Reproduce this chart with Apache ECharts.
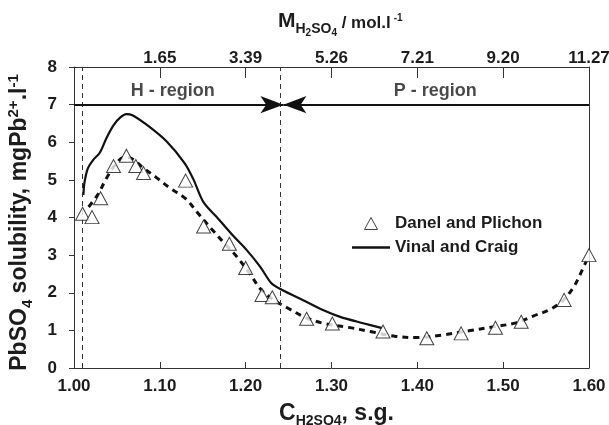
<!DOCTYPE html>
<html>
<head>
<meta charset="utf-8">
<script src="https://cdn.jsdelivr.net/npm/echarts@6/dist/echarts.min.js"></script>
<style>
  html, body { margin: 0; padding: 0; background: #fff; }
  #chart { width: 609px; height: 425px; }
</style>
</head>
<body>
<div id="chart"></div>
<script>
// Bottom axis: specific gravity of H2SO4; top axis: matching molarity
const sgTicks = [1.00, 1.10, 1.20, 1.30, 1.40, 1.50, 1.60];
const molarityLabels = ['', '1.65', '3.39', '5.26', '7.21', '9.20', '11.27'];

// Danel and Plichon measurements (s.g., mg Pb2+/l)
const danelSG  = [1.010, 1.021, 1.031, 1.046, 1.061, 1.072, 1.081, 1.130, 1.151, 1.181, 1.200, 1.219, 1.231, 1.271, 1.301, 1.360, 1.411, 1.451, 1.491, 1.521, 1.571, 1.600];
const danelSol = [4.10, 4.01, 4.51, 5.37, 5.64, 5.37, 5.18, 4.98, 3.76, 3.30, 2.66, 1.94, 1.88, 1.31, 1.18, 0.97, 0.79, 0.92, 1.07, 1.23, 1.81, 3.00];

// Trend curve through the Danel and Plichon data
const trendSG  = [1.017, 1.028, 1.038, 1.048, 1.058, 1.066, 1.080, 1.095, 1.112, 1.130, 1.145, 1.160, 1.175, 1.190, 1.205, 1.218, 1.232, 1.250, 1.270, 1.290, 1.320, 1.345, 1.375, 1.400, 1.430, 1.460, 1.490, 1.515, 1.535, 1.555, 1.570, 1.582, 1.590, 1.597];
const trendSol = [4.28, 4.62, 5.05, 5.40, 5.60, 5.58, 5.33, 5.08, 4.78, 4.50, 4.10, 3.70, 3.32, 2.95, 2.50, 2.08, 1.82, 1.58, 1.34, 1.19, 1.08, 0.97, 0.84, 0.81, 0.88, 0.99, 1.10, 1.20, 1.38, 1.56, 1.80, 2.15, 2.50, 2.85];

// Vinal and Craig curve
const vinalSG  = [1.011, 1.012, 1.016, 1.022, 1.030, 1.038, 1.046, 1.054, 1.061, 1.068, 1.085, 1.108, 1.129, 1.139, 1.151, 1.166, 1.186, 1.201, 1.217, 1.230, 1.242, 1.267, 1.290, 1.310, 1.337, 1.359];
const vinalSol = [4.60, 4.90, 5.30, 5.52, 5.72, 6.12, 6.45, 6.66, 6.75, 6.72, 6.46, 6.02, 5.44, 5.02, 4.40, 4.02, 3.50, 3.14, 2.69, 2.25, 2.08, 1.80, 1.54, 1.36, 1.19, 1.06];

// Region boundaries and region annotation
const boundarySG = [1.013, 1.244];
const arrowLevel = 7;
const regionNames = ['H - region', 'P - region'];
const regionLabelSG = [1.115, 1.421];
const regionLabelLevel = 7.35;

const FONT = '"Liberation Sans", Arial, Helvetica, sans-serif';
const INK = '#1c1c1c';
const zip = (xs, ys) => xs.map((x, i) => [x, ys[i]]);

const chart = echarts.init(document.getElementById('chart'), null, { renderer: 'canvas' });

// one rich-text fragment: raised by padBottom inside a bottom-aligned line
function richPiece(size, padBottom, padLeft) {
  return { fontSize: size, lineHeight: size, fontWeight: 'bold', fontFamily: FONT, color: INK,
           verticalAlign: 'bottom', padding: [0, 0, padBottom, padLeft || 0] };
}

// arrow head whose tip sits on the boundary line
const arrowHead = { symbol: 'arrow', symbolSize: [13, 23] };

const option = {
  animation: false,
  backgroundColor: '#fff',
  textStyle: { fontFamily: FONT },
  title: {
    text: '{m|M}{s|H}{d|2}{s|SO}{d|4}{u| / mol.l}{p|-1}',
    left: 278,
    top: 19,
    padding: 0,
    textStyle: {
      rich: {
        m: richPiece(21, 8),
        s: richPiece(14, 4),
        d: richPiece(10, 1.6),
        u: richPiece(17, 8.6),
        p: richPiece(10, 16.6, 3)
      }
    }
  },
  legend: {
    data: [
      { name: 'Danel and Plichon', icon: 'path://M6,0L12,11L0,11Z',
        itemStyle: { color: '#fff', borderColor: '#111', borderWidth: 1 } },
      { name: 'Vinal and Craig', icon: 'path://M0,0L38,0L38,2.4L0,2.4Z',
        itemStyle: { color: '#111', borderWidth: 0 } }
    ],
    orient: 'vertical',
    left: 352,
    top: 215,
    padding: 0,
    itemWidth: 38,
    itemHeight: 12,
    itemGap: 7,
    selectedMode: false,
    textStyle: { fontSize: 17, fontWeight: 'bold', color: INK, fontFamily: FONT }
  },
  grid: { left: 74, right: 20, top: 67, bottom: 57, show: false, containLabel: false, outerBoundsMode: 'none' },
  xAxis: [
    {
      type: 'value', position: 'bottom', min: 1.0, max: 1.6, interval: 0.1,
      axisLine: { onZero: false, lineStyle: { color: '#333', width: 1 } },
      axisTick: { inside: true, length: 6, lineStyle: { color: '#333' } },
      axisLabel: { margin: 10, fontSize: 17, fontWeight: 'bold', color: INK, fontFamily: FONT,
                   formatter: v => v.toFixed(2) },
      splitLine: { show: false },
      name: '{c|C}{s|H2SO4}{c|, s.g.}',
      nameLocation: 'middle',
      nameGap: 39,
      nameTextStyle: {
        padding: [0, 0, 0, 10],
        rich: { c: richPiece(23, 5), s: richPiece(14, 2.3) }
      }
    },
    {
      type: 'value', position: 'top', min: 1.0, max: 1.6, interval: 0.1,
      axisLine: { onZero: false, lineStyle: { color: '#333', width: 1 } },
      axisTick: { inside: true, length: 11, lineStyle: { color: '#333' } },
      axisLabel: {
        margin: 0, fontSize: 17, fontWeight: 'bold', color: INK, fontFamily: FONT,
        formatter: v => {
          const i = sgTicks.findIndex(t => Math.abs(t - v) < 1e-6);
          return i >= 0 ? molarityLabels[i] : '';
        }
      },
      splitLine: { show: false }
    }
  ],
  yAxis: [
    {
      type: 'value', position: 'left', min: 0, max: 8, interval: 1,
      axisLine: { show: true, onZero: false, lineStyle: { color: '#333', width: 1 } },
      axisTick: { show: true, inside: false, length: 5, lineStyle: { color: '#333' } },
      axisLabel: { margin: 17, fontSize: 17, fontWeight: 'bold', color: INK, fontFamily: FONT },
      splitLine: { show: false },
      name: '{a|PbSO}{b|4}{a| solubility, mgPb}{c|2+}{a|.l}{c|-1}',
      nameLocation: 'middle',
      nameGap: 33,
      nameTextStyle: {
        padding: [0, 10, 0, 0],
        rich: { a: richPiece(23, 5), b: richPiece(15, 1.2), c: richPiece(15, 15.5) }
      }
    },
    {
      type: 'value', position: 'right', min: 0, max: 8, interval: 1,
      axisLine: { show: true, onZero: false, lineStyle: { color: '#333', width: 1 } },
      axisTick: { show: false }, axisLabel: { show: false }, splitLine: { show: false }
    }
  ],
  series: [
    {
      name: 'trend',
      type: 'line',
      data: zip(trendSG, trendSol),
      symbol: 'none',
      smooth: 0.35,
      lineStyle: { color: '#111', width: 3, type: [6, 5] },
      z: 2,
      silent: true,
      markLine: {
        silent: true,
        symbol: 'none',
        label: { show: false },
        lineStyle: { color: '#333', width: 1, type: [5, 4] },
        data: boundarySG.map(b => ({ xAxis: b }))
      }
    },
    {
      name: 'Vinal and Craig',
      type: 'line',
      data: zip(vinalSG, vinalSol),
      symbol: 'none',
      smooth: 0.3,
      lineStyle: { color: '#111', width: 2.2, type: 'solid' },
      itemStyle: { color: '#111' },
      z: 3,
      silent: true,
      markLine: {
        silent: true,
        symbol: ['none', 'arrow'],
        label: { show: false },
        lineStyle: { color: '#111', width: 2, type: 'solid' },
        itemStyle: { color: '#111' },
        data: [
          [{ coord: [sgTicks[0], arrowLevel], symbol: 'none' },
           Object.assign({ coord: [boundarySG[1], arrowLevel] }, arrowHead)],
          [{ coord: [sgTicks[sgTicks.length - 1], arrowLevel], symbol: 'none' },
           Object.assign({ coord: [boundarySG[1], arrowLevel] }, arrowHead)]
        ]
      }
    },
    {
      name: 'Danel and Plichon',
      type: 'scatter',
      data: zip(danelSG, danelSol),
      symbol: 'triangle',
      symbolSize: [14, 13],
      itemStyle: { color: '#fff', borderColor: '#111', borderWidth: 1 },
      clip: false,
      z: 5,
      silent: true
    },
    {
      name: 'regions',
      type: 'scatter',
      data: regionNames.map((n, i) => ({ name: n, value: [regionLabelSG[i], regionLabelLevel] })),
      symbolSize: 0,
      silent: true,
      z: 6,
      label: {
        show: true, position: 'inside', formatter: '{b}',
        fontSize: 18, fontWeight: 'bold', color: INK, fontFamily: FONT
      }
    }
  ]
};

chart.setOption(option);
</script>
</body>
</html>
